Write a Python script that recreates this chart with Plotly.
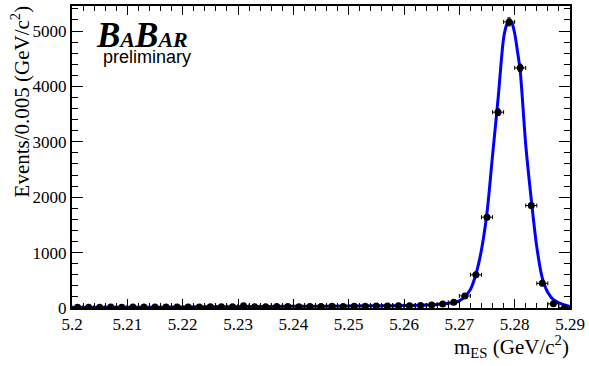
import numpy as np
import plotly.graph_objects as go

# ---- data ----
bin_centers = [5.201, 5.203, 5.205, 5.207, 5.209, 5.211, 5.213, 5.215, 5.217, 5.219,
               5.221, 5.223, 5.225, 5.227, 5.229, 5.231, 5.233, 5.235, 5.237, 5.239,
               5.241, 5.243, 5.245, 5.247, 5.249, 5.251, 5.253, 5.255, 5.257, 5.259,
               5.261, 5.263, 5.265, 5.267, 5.269, 5.271, 5.273, 5.275, 5.277, 5.279,
               5.281, 5.283, 5.285, 5.287, 5.289]
events = [12, 15, 14, 16, 15, 18, 16, 17, 19, 18,
          20, 19, 22, 21, 23, 40, 24, 22, 25, 27,
          24, 28, 27, 30, 29, 33, 31, 36, 35, 42,
          40, 46, 55, 72, 105, 218, 600, 1640, 3535, 5165,
          4335, 1850, 445, 75, 5]
event_errors = [float(np.sqrt(v)) for v in events]

fit_x = [5.200, 5.210, 5.220, 5.230, 5.240, 5.250, 5.258, 5.263, 5.266, 5.268,
         5.269, 5.270, 5.271, 5.272, 5.273, 5.274, 5.275, 5.276, 5.277, 5.278,
         5.2785, 5.279, 5.2795, 5.280, 5.2805, 5.281, 5.282, 5.283, 5.284, 5.285,
         5.286, 5.287, 5.288, 5.289, 5.290]
fit_y = [8, 13, 18, 24, 30, 36, 42, 50, 62, 85,
         100, 130, 205, 335, 610, 1050, 1720, 2750, 3777, 4870,
         5100, 5200, 5150, 4960, 4640, 4280, 2950, 1960, 1100, 540,
         280, 150, 92, 55, 25]

x_tickvals = [5.20, 5.21, 5.22, 5.23, 5.24, 5.25, 5.26, 5.27, 5.28, 5.29]
x_ticktext = ["5.2", "5.21", "5.22", "5.23", "5.24", "5.25", "5.26", "5.27", "5.28", "5.29"]
y_tickvals = [0, 1000, 2000, 3000, 4000, 5000]
y_ticktext = ["0", "1000", "2000", "3000", "4000", "5000"]

SERIF = "Liberation Serif, Times New Roman, serif"
SANS = "Liberation Sans, Arial, sans-serif"

fig = go.Figure()
fig.add_trace(go.Scatter(
    x=fit_x, y=fit_y, mode="lines",
    line=dict(color="#0000ff", width=3, shape="spline", smoothing=0.8),
    hoverinfo="skip", showlegend=False))
fig.add_trace(go.Scatter(
    x=bin_centers, y=events, mode="markers",
    marker=dict(color="black", size=7, symbol="circle"),
    error_x=dict(type="constant", value=0.001, color="black", thickness=1, width=2),
    error_y=dict(type="data", array=event_errors, color="black", thickness=1, width=2),
    showlegend=False))

W, H = 589, 366
L, R, T, B = 72, 15, 4, 58
pw, ph = W - L - R, H - T - B

def px_x(p):
    return (p - L) / pw

def px_y(p):
    return (H - B - p) / ph

axis_common = dict(
    showgrid=False, zeroline=False, showline=True, linecolor="black", linewidth=2,
    mirror="ticks", ticks="inside", tickcolor="black", tickwidth=1,
    tickfont=dict(family=SERIF, size=17, color="black"),
)

fig.update_xaxes(
    range=[5.2, 5.29], tickmode="array", tickvals=x_tickvals, ticktext=x_ticktext,
    ticklen=9,
    minor=dict(ticks="inside", ticklen=5, tickwidth=1, tickcolor="black", tick0=5.2, dtick=0.002),
    **axis_common)
fig.update_yaxes(
    range=[0, 5452], tickmode="array", tickvals=y_tickvals, ticktext=y_ticktext,
    ticklen=11,
    minor=dict(ticks="inside", ticklen=6, tickwidth=1, tickcolor="black", tick0=0, dtick=200),
    **axis_common)

annotations = [
    dict(text="Events/0.005 (GeV/c<sup>2</sup>)", textangle=-90,
         xref="paper", yref="paper", x=px_x(20), y=px_y(1),
         xanchor="center", yanchor="top", showarrow=False,
         font=dict(family=SERIF, size=21, color="black")),
    dict(text="m<sub>ES</sub> (GeV/c<sup>2</sup>)",
         xref="paper", yref="paper", x=px_x(575), y=px_y(347),
         xanchor="right", yanchor="middle", showarrow=False,
         font=dict(family=SERIF, size=21, color="black")),
    dict(text="<b><i>B<span style='font-size:22px'>A</span>B<span style='font-size:22px'>AR</span></i></b>",
         xref="paper", yref="paper", x=px_x(94), y=px_y(12),
         xanchor="left", yanchor="top", showarrow=False,
         font=dict(family=SERIF, size=35, color="black")),
    dict(text="preliminary",
         xref="paper", yref="paper", x=px_x(101), y=px_y(55),
         xanchor="left", yanchor="middle", showarrow=False,
         font=dict(family=SANS, size=18, color="black")),
]

fig.update_layout(
    width=W, height=H,
    margin=dict(l=L, r=R, t=T, b=B, pad=0),
    paper_bgcolor="white", plot_bgcolor="white",
    annotations=annotations,
    showlegend=False,
)

fig.write_html("out.html", config={"displayModeBar": False},
               post_script="document.body.style.margin='0';document.body.style.overflow='hidden';")
